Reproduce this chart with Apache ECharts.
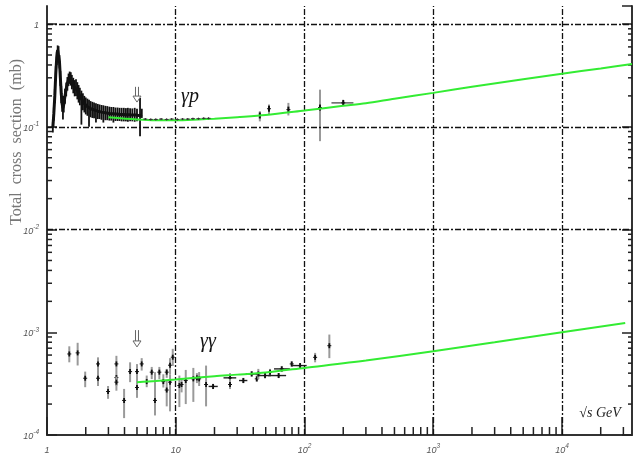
<!DOCTYPE html>
<html>
<head>
<meta charset="utf-8">
<script src="https://cdn.jsdelivr.net/npm/echarts@6/dist/echarts.min.js"></script>
<style>html,body{margin:0;padding:0;background:#fff}#c{width:634px;height:456px}</style>
</head>
<body>
<div id="c"></div>
<script>
// ---------- data ----------
const xRange = [1, 35000];
const yRange = [1e-4, 1.5];
const xGrid = [10, 100, 1000, 10000];
const yGrid = [1e-3, 1e-2, 0.1, 1];

// gamma-p low energy data: [sqrt(s), sigma, low, high]
const gpLow = [
 [1.11,0.098,0.088,0.112],[1.13,0.135,0.115,0.155],[1.15,0.20,0.170,0.235],[1.17,0.33,0.28,0.39],
 [1.19,0.47,0.40,0.54],[1.21,0.56,0.49,0.62],[1.23,0.55,0.47,0.61],[1.25,0.43,0.37,0.50],
 [1.27,0.30,0.25,0.35],[1.29,0.21,0.17,0.25],[1.31,0.168,0.140,0.20],[1.33,0.152,0.118,0.180],
 [1.35,0.165,0.138,0.20],[1.38,0.20,0.168,0.235],[1.41,0.235,0.198,0.27],[1.44,0.265,0.225,0.305],
 [1.47,0.29,0.250,0.33],[1.50,0.305,0.262,0.345],[1.53,0.295,0.252,0.34],[1.56,0.275,0.232,0.32],
 [1.60,0.255,0.212,0.30],[1.64,0.240,0.198,0.285],[1.68,0.245,0.200,0.29],[1.72,0.228,0.185,0.272],
 [1.76,0.212,0.172,0.255],[1.80,0.200,0.162,0.240],[1.85,0.188,0.105,0.225],[1.90,0.178,0.145,0.212],
 [1.95,0.168,0.138,0.200],[2.00,0.162,0.132,0.193],[2.06,0.157,0.128,0.188],[2.12,0.153,0.100,0.183],
 [2.18,0.150,0.124,0.178],[2.25,0.148,0.122,0.175],[2.32,0.146,0.121,0.172],[2.40,0.144,0.110,0.170],
 [2.48,0.142,0.119,0.167],[2.56,0.141,0.119,0.165],[2.65,0.139,0.117,0.163],[2.74,0.138,0.110,0.162],
 [2.84,0.137,0.116,0.160],[2.94,0.136,0.116,0.159],[3.05,0.135,0.115,0.157],[3.16,0.134,0.115,0.156],
 [3.28,0.134,0.110,0.156],[3.40,0.133,0.114,0.154],[3.53,0.133,0.114,0.154],[3.66,0.132,0.114,0.153],
 [3.80,0.132,0.113,0.153],[3.95,0.132,0.113,0.153],[4.10,0.131,0.113,0.152],[4.25,0.131,0.112,0.153],
 [4.42,0.131,0.113,0.152],[4.60,0.130,0.113,0.151],[4.80,0.130,0.112,0.153],[5.00,0.130,0.113,0.150],
 [5.28,0.128,0.081,0.191],[5.45,0.131,0.122,0.150]
];
// gamma-p points along the fit (5-20 GeV)
const gpMid = [
 [5.8,0.119,0.117,0.121],[6.4,0.118,0.116,0.120],[7.0,0.118,0.116,0.120],[7.7,0.119,0.117,0.121],
 [8.5,0.118,0.116,0.120],[9.3,0.119,0.117,0.121],[10.3,0.118,0.116,0.120],[11.3,0.119,0.117,0.121],
 [12.4,0.119,0.117,0.121],[13.6,0.120,0.118,0.122],[15.0,0.120,0.118,0.122],[16.5,0.121,0.119,0.123],
 [18.0,0.121,0.119,0.123]
];
// gamma-p high energy: [sqrt(s), sigma, low, high, xlow, xhigh]
const gpHigh = [
 [45,0.129,0.113,0.142],[53,0.150,0.132,0.165],[75,0.147,0.129,0.171],
 [132,0.154,0.0725,0.230],[200,0.171,0.165,0.178,162,240]
];
// gamma-gamma data: [sqrt(s), sigma, low, high, xlow, xhigh]
const ggData = [
 [1.49,6.15e-4,5.1e-4,7.3e-4],[1.73,6.3e-4,4.75e-4,7.9e-4],[1.98,3.57e-4,2.92e-4,4.14e-4],
 [2.49,4.92e-4,4.2e-4,5.7e-4],[2.49,3.57e-4,3.0e-4,4.2e-4],[2.98,2.65e-4,2.25e-4,3.0e-4],
 [3.46,4.92e-4,4.2e-4,5.9e-4],[3.46,3.62e-4,3.0e-4,4.2e-4],[3.46,3.27e-4,2.7e-4,3.7e-4],
 [3.97,2.17e-4,1.46e-4,2.81e-4],[4.42,4.14e-4,3.27e-4,5.1e-4],[5.0,4.14e-4,3.4e-4,4.9e-4],
 [5.0,2.9e-4,2.3e-4,3.5e-4],[5.44,4.92e-4,4.24e-4,5.6e-4],[5.95,3.31e-4,2.92e-4,3.79e-4],
 [6.51,4.09e-4,3.5e-4,4.6e-4],[6.9,2.17e-4,1.55e-4,4.09e-4],[7.46,4.09e-4,3.5e-4,4.6e-4],
 [8.01,3.31e-4,2.9e-4,3.9e-4],[8.51,4.09e-4,3.6e-4,4.4e-4],[8.51,2.74e-4,1.9e-4,3.4e-4],
 [9.03,4.78e-4,3.9e-4,5.6e-4],[9.03,3.27e-4,1.7e-4,3.9e-4],[9.48,5.72e-4,4.7e-4,6.9e-4],
 [10.67,3.03e-4,1.87e-4,3.79e-4],[11.1,3.1e-4,2.6e-4,3.6e-4],[11.96,3.39e-4,2.0e-4,4.3e-4],
 [13.7,3.52e-4,2.1e-4,4.5e-4],[14.6,3.6e-4,3.2e-4,4.0e-4,13.8,15.6],[15.2,3.52e-4,3.0e-4,4.1e-4],
 [17.2,3.1e-4,1.9e-4,4.74e-4],[19.5,2.97e-4,2.8e-4,3.15e-4,18.0,21.2],
 [26.4,3.6e-4,3.3e-4,4.0e-4,23.5,29.5],[26.4,3.1e-4,2.8e-4,3.5e-4],
 [33.5,3.39e-4,3.2e-4,3.6e-4,31,36],[38.9,3.93e-4,3.7e-4,4.2e-4,35,43],
 [42.6,3.52e-4,3.3e-4,3.8e-4],[43.8,3.93e-4,3.5e-4,4.4e-4],[49.4,3.79e-4,3.55e-4,4.0e-4,44,55],
 [54,4.09e-4,3.8e-4,4.4e-4],[63,3.79e-4,3.6e-4,4.0e-4,52,72],[66.6,4.4e-4,4.1e-4,4.7e-4,58,77],
 [79.6,4.92e-4,4.6e-4,5.2e-4],[92.5,4.74e-4,4.5e-4,5.0e-4,80,104],
 [121,5.7e-4,5.1e-4,6.3e-4],[156,7.4e-4,5.6e-4,9.5e-4]
];
// fits
const gpFitX = [3,5,7,10,15,20,30,50,100,200,300,500,1000,2000,5000,10000,20000,35000];
const gpFitY = [0.124,0.118,0.116,0.116,0.118,0.120,0.124,0.130,0.144,0.160,0.170,0.188,0.214,0.245,0.29,0.329,0.37,0.409];
const ggFitX = [5,7,10,20,30,50,100,300,1000,3000,10000,31000];
const ggFitY = [3.27e-4,3.35e-4,3.47e-4,3.74e-4,3.87e-4,4.06e-4,4.5e-4,5.3e-4,6.54e-4,8.0e-4,1.0e-3,1.23e-3];
// arrows marking sqrt(s)=5 GeV: [x, tip, top]
const arrows = [[5, 0.174, 0.245], [5, 7.2e-4, 1.05e-3]];
// minor tick values
const xMinor = [2,3,4,5,6,7,8,9,20,30,40,50,60,70,80,90,200,300,400,500,600,700,800,900,
 2000,3000,4000,5000,6000,7000,8000,9000,20000,30000];
const yMinor = [2e-4,3e-4,4e-4,5e-4,6e-4,7e-4,8e-4,9e-4,2e-3,3e-3,4e-3,5e-3,6e-3,7e-3,8e-3,9e-3,
 0.02,0.03,0.04,0.05,0.06,0.07,0.08,0.09,0.2,0.3,0.4,0.5,0.6,0.7,0.8,0.9];

// ---------- chart ----------
const chart = echarts.init(document.getElementById('c'), null, {renderer:'canvas'});
const pad = r => [r[0], r[1], r[2], r[3], r.length > 4 ? r[4] : null, r.length > 5 ? r[5] : null];

function fmtPow(v){
  const e = Math.log10(v), r = Math.round(e);
  if (Math.abs(e - r) > 1e-6) return '';
  if (r === 0) return '{b|1}';
  if (r === 1) return '{b|10}';
  return '{b|10}{e|' + r + '}';
}
const richLab = {
  b:{fontSize:9, fontStyle:'italic', fontFamily:'Liberation Sans', color:'#555', verticalAlign:'bottom', lineHeight:12},
  e:{fontSize:6.5, fontStyle:'italic', fontFamily:'Liberation Sans', color:'#555', verticalAlign:'top', lineHeight:12, padding:[0,0,6,0]}
};
const gridStyle = {color:'#111', width:1.3, type:[6,2,2,2]};

function errItem(style){
  return function(params, api){
    const x = api.value(0), y = api.value(1), lo = api.value(2), hi = api.value(3);
    const xl = api.value(4), xh = api.value(5);
    const c = api.coord([x,y]), pl = api.coord([x,lo]), ph = api.coord([x,hi]);
    const ch = [];
    ch.push({type:'line', shape:{x1:c[0],y1:pl[1],x2:c[0],y2:ph[1]}, style:{stroke:style.bar, lineWidth:style.bw}});
    if (!isNaN(xl) && xl !== null && !isNaN(xh)) {
      const a = api.coord([xl,y]), b = api.coord([xh,y]);
      ch.push({type:'line', shape:{x1:a[0],y1:c[1],x2:b[0],y2:c[1]}, style:{stroke:style.hbar, lineWidth:1.4}});
    }
    if (style.mark) {
      ch.push({type:'line', shape:{x1:c[0],y1:c[1]-style.mh,x2:c[0],y2:c[1]+style.mh}, style:{stroke:style.mark, lineWidth:style.mw}});
      ch.push({type:'line', shape:{x1:c[0]-2,y1:c[1],x2:c[0]+2,y2:c[1]}, style:{stroke:style.mark, lineWidth:1}});
    }
    return {type:'group', children:ch};
  };
}

const option = {
  animation:false,
  grid:{left:47, right:2, top:6, bottom:21, containLabel:false},
  xAxis:{
    type:'log', logBase:10, min:xRange[0], max:xRange[1],
    axisLine:{show:true, lineStyle:{color:'#333', width:2}},
    axisTick:{show:true, inside:true, length:18, lineStyle:{color:'#222', width:1.5}},
    axisLabel:{show:true, margin:8, formatter:fmtPow, rich:richLab, showMaxLabel:false, hideOverlap:false},
    splitLine:{show:false}
  },
  yAxis:[{
    type:'log', logBase:10, min:yRange[0], max:yRange[1],
    axisLine:{show:true, lineStyle:{color:'#333', width:2}},
    axisTick:{show:true, inside:true, length:10, lineStyle:{color:'#222', width:1.5}},
    axisLabel:{show:true, margin:8, formatter:fmtPow, rich:richLab, showMaxLabel:false},
    splitLine:{show:false}
  },{
    type:'log', logBase:10, min:yRange[0], max:yRange[1], position:'right',
    axisLine:{show:true, lineStyle:{color:'#333', width:2}},
    axisTick:{show:true, inside:true, length:10, lineStyle:{color:'#222', width:1.5}},
    axisLabel:{show:false}, splitLine:{show:false}
  }],
  series:[
    {type:'line', name:'grid', data:[], silent:true, z:1,
     markLine:{silent:true, symbol:['none','none'], label:{show:false}, lineStyle:gridStyle, animation:false,
       data: xGrid.map(v=>({xAxis:v})).concat(yGrid.map(v=>({yAxis:v})))}},
    {type:'custom', name:'xminor', data:xMinor.map(v=>[v, yRange[0]]), encode:{x:0,y:1}, silent:true, z:5,
     renderItem:(p,api)=>{const c=api.coord([api.value(0),api.value(1)]);
       return {type:'line', shape:{x1:c[0],y1:c[1],x2:c[0],y2:c[1]-8}, style:{stroke:'#222', lineWidth:1.5}};}},
    {type:'custom', name:'yminorL', data:yMinor.map(v=>[xRange[0], v]), encode:{x:0,y:1}, silent:true, z:5,
     renderItem:(p,api)=>{const c=api.coord([api.value(0),api.value(1)]);
       return {type:'line', shape:{x1:c[0],y1:c[1],x2:c[0]+5,y2:c[1]}, style:{stroke:'#222', lineWidth:1.5}};}},
    {type:'custom', name:'yminorR', data:yMinor.map(v=>[xRange[1], v]), encode:{x:0,y:1}, silent:true, z:5,
     renderItem:(p,api)=>{const c=api.coord([api.value(0),api.value(1)]);
       return {type:'line', shape:{x1:c[0],y1:c[1],x2:c[0]-4,y2:c[1]}, style:{stroke:'#222', lineWidth:1.5}};}},
    {type:'custom', name:'gpLowErr', data:gpLow.map(pad), encode:{x:0,y:1}, z:3,
     renderItem:errItem({bar:'#111', bw:1.8, hbar:'#111', mark:null})},
    {type:'line', name:'gpLowLine', data:gpLow.map(r=>[r[0],r[1]]), symbol:'none', z:3,
     lineStyle:{color:'#111', width:3}},
    {type:'custom', name:'gpMid', data:gpMid.map(pad), encode:{x:0,y:1}, z:7,
     renderItem:errItem({bar:'#444', bw:1, hbar:'#444', mark:'#333', mh:1, mw:1})},
    {type:'custom', name:'gpHigh', data:gpHigh.map(pad), encode:{x:0,y:1}, z:4,
     renderItem:errItem({bar:'#999', bw:2, hbar:'#555', mark:'#111', mh:3, mw:2})},
    {type:'custom', name:'gg', data:ggData.map(pad), encode:{x:0,y:1}, z:4,
     renderItem:errItem({bar:'#9a9a9a', bw:2, hbar:'#222', mark:'#111', mh:2.5, mw:1.8})},
    {type:'line', name:'gpFit', data:gpFitX.map((x,i)=>[x,gpFitY[i]]), symbol:'none', smooth:0.3, z:6,
     lineStyle:{color:'#33ec33', width:2}},
    {type:'line', name:'ggFit', data:ggFitX.map((x,i)=>[x,ggFitY[i]]), symbol:'none', smooth:0.3, z:6,
     lineStyle:{color:'#33ec33', width:2}},
    {type:'custom', name:'arrows', data:arrows, encode:{x:0,y:1}, z:8, silent:true,
     renderItem:(p,api)=>{
       const t = api.coord([api.value(0), api.value(1)]), b = api.coord([api.value(0), api.value(2)]);
       const hx = t[0], hy = t[1] - 6;
       return {type:'group', children:[
         {type:'line', shape:{x1:hx-1.5,y1:b[1],x2:hx-1.5,y2:hy}, style:{stroke:'#666', lineWidth:1}},
         {type:'line', shape:{x1:hx+1.5,y1:b[1],x2:hx+1.5,y2:hy}, style:{stroke:'#666', lineWidth:1}},
         {type:'polygon', shape:{points:[[hx-4,hy],[hx+4,hy],[hx,t[1]]]}, style:{fill:'#fff', stroke:'#666', lineWidth:1}}
       ]};
     }}
  ],
  graphic:[
    {type:'text', x:17, y:142, rotation:Math.PI/2, style:{text:'Total  cross  section  (mb)', font:'16px "Liberation Serif"', fill:'#777', textAlign:'center', textVerticalAlign:'middle'}},
    {type:'text', x:190, y:97, style:{text:'γp', font:'italic 20px "Liberation Serif"', fill:'#111', textAlign:'center', textVerticalAlign:'middle'}},
    {type:'text', x:208, y:342, style:{text:'γγ', font:'italic 20px "Liberation Serif"', fill:'#111', textAlign:'center', textVerticalAlign:'middle'}},
    {type:'text', x:600, y:413, style:{text:'√s GeV', font:'italic 14px "Liberation Serif"', fill:'#222', textAlign:'center', textVerticalAlign:'middle'}}
  ]
};
chart.setOption(option);
</script>
</body>
</html>
